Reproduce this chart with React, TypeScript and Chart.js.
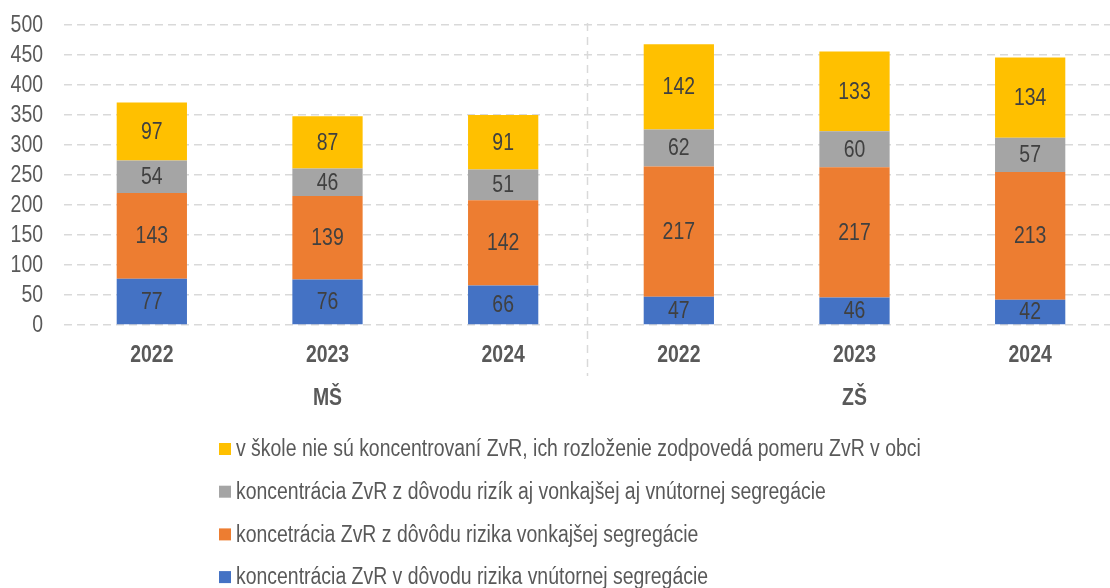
import React, { useEffect, useRef } from "react";
import { Chart, registerables } from "chart.js";

Chart.register(...registerables);

const CATEGORIES = ["2022", "2023", "2024", "2022", "2023", "2024"];
const GROUPS = ["MŠ", "ZŠ"];
const Y_TICKS = [0, 50, 100, 150, 200, 250, 300, 350, 400, 450, 500];
const INNER = [77, 76, 66, 47, 46, 42];
const OUTER = [143, 139, 142, 217, 217, 213];
const BOTH = [54, 46, 51, 62, 60, 57];
const NONE = [97, 87, 91, 142, 133, 134];

const LABEL_INNER = "koncentrácia ZvR v dôvodu rizika vnútornej segregácie";
const LABEL_OUTER = "koncetrácia ZvR z dôvôdu rizika vonkajšej segregácie";
const LABEL_BOTH = "koncentrácia ZvR z dôvodu rizík aj vonkajšej aj vnútornej segregácie";
const LABEL_NONE = "v škole nie sú koncentrovaní ZvR, ich rozloženie zodpovedá pomeru ZvR v obci";

const COLORS = ["#4472C4", "#ED7D31", "#A5A5A5", "#FFC000"];

const FONT = '"Liberation Sans", Arial, sans-serif';
const NARROW = 0.845;

function narrowText(
  ctx: CanvasRenderingContext2D,
  text: string,
  x: number,
  y: number,
  align: "left" | "center" | "right",
  font: string,
  color: string
) {
  ctx.save();
  ctx.font = font;
  ctx.fillStyle = color;
  ctx.textAlign = align;
  ctx.textBaseline = "middle";
  ctx.translate(x, y);
  ctx.scale(NARROW, 1);
  ctx.fillText(text, 0, 0);
  ctx.restore();
}

const overlayPlugin = {
  id: "overlay",
  afterDatasetsDraw(chart: any) {
    const ctx = chart.ctx;
    chart.data.datasets.forEach((ds: any, di: number) => {
      const meta = chart.getDatasetMeta(di);
      meta.data.forEach((bar: any, i: number) => {
        const y = (bar.y + bar.base) / 2;
        narrowText(ctx, String(ds.data[i]), bar.x, y + 1, "center", `23px ${FONT}`, "#404040");
      });
    });
  },
  afterDraw(chart: any) {
    const ctx = chart.ctx;
    const xs = chart.scales.x;
    const ys = chart.scales.y;
    const area = chart.chartArea;

    // y tick labels
    Y_TICKS.forEach((v) => {
      narrowText(ctx, String(v), 43, ys.getPixelForValue(v) + 1, "right", `23px ${FONT}`, "#595959");
    });

    // x category labels
    CATEGORIES.forEach((c, i) => {
      narrowText(ctx, c, xs.getPixelForValue(i), 356, "center", `bold 23px ${FONT}`, "#595959");
    });

    // separator
    const sepX = (xs.getPixelForValue(2) + xs.getPixelForValue(3)) / 2 - 3.5;
    ctx.save();
    ctx.strokeStyle = "#d9d9d9";
    ctx.lineWidth = 1.5;
    ctx.setLineDash([8, 6]);
    ctx.beginPath();
    ctx.moveTo(sepX, area.top - 2);
    ctx.lineTo(sepX, 376);
    ctx.stroke();
    ctx.restore();

    // group labels
    GROUPS.forEach((g, gi) => {
      const cx = xs.getPixelForValue(gi * 3 + 1);
      narrowText(ctx, g, cx, 399, "center", `bold 23px ${FONT}`, "#595959");
    });

    // legend
    const items = [3, 2, 1, 0];
    items.forEach((di, k) => {
      const y = 449 + k * 42.7;
      ctx.save();
      ctx.fillStyle = COLORS[di];
      ctx.fillRect(219, y - 6, 12, 12);
      ctx.restore();
      narrowText(ctx, chart.data.datasets[di].label, 236, y + 1, "left", `23px ${FONT}`, "#595959");
    });
  },
};

export default function App() {
  const ref = useRef<HTMLCanvasElement | null>(null);
  useEffect(() => {
    if (!ref.current) return;
    const chart = new Chart(ref.current, {
      type: "bar",
      data: {
        labels: CATEGORIES,
        datasets: [
          { label: LABEL_INNER, data: INNER, backgroundColor: COLORS[0] },
          { label: LABEL_OUTER, data: OUTER, backgroundColor: COLORS[1] },
          { label: LABEL_BOTH, data: BOTH, backgroundColor: COLORS[2] },
          { label: LABEL_NONE, data: NONE, backgroundColor: COLORS[3] },
        ],
      },
      options: {
        animation: false,
        responsive: false,
        devicePixelRatio: 1,
        layout: { padding: { top: 25, right: 2, left: 0, bottom: 0 } },
        datasets: {
          bar: { categoryPercentage: 0.4, barPercentage: 1.0 },
        },
        plugins: {
          legend: { display: false },
          tooltip: { enabled: false },
        },
        scales: {
          x: {
            stacked: true,
            grid: { display: false },
            border: { display: false },
            ticks: { display: false },
            afterFit(scale: any) {
              scale.height = 263;
            },
          },
          y: {
            stacked: true,
            min: 0,
            max: 500,
            grid: { color: "#d9d9d9", lineWidth: 1.5, drawTicks: false },
            border: { display: false, dash: [8, 5] },
            ticks: { stepSize: 50, display: false },
            afterFit(scale: any) {
              scale.width = 64;
            },
          },
        },
      },
      plugins: [overlayPlugin],
    });
    return () => chart.destroy();
  }, []);
  return (
    <div
      style={{
        position: "fixed",
        left: 0,
        top: 0,
        width: 1110,
        height: 588,
        overflow: "hidden",
        background: "#fff",
      }}
    >
      <canvas ref={ref} width={1120} height={588} style={{ display: "block" }} />
    </div>
  );
}
